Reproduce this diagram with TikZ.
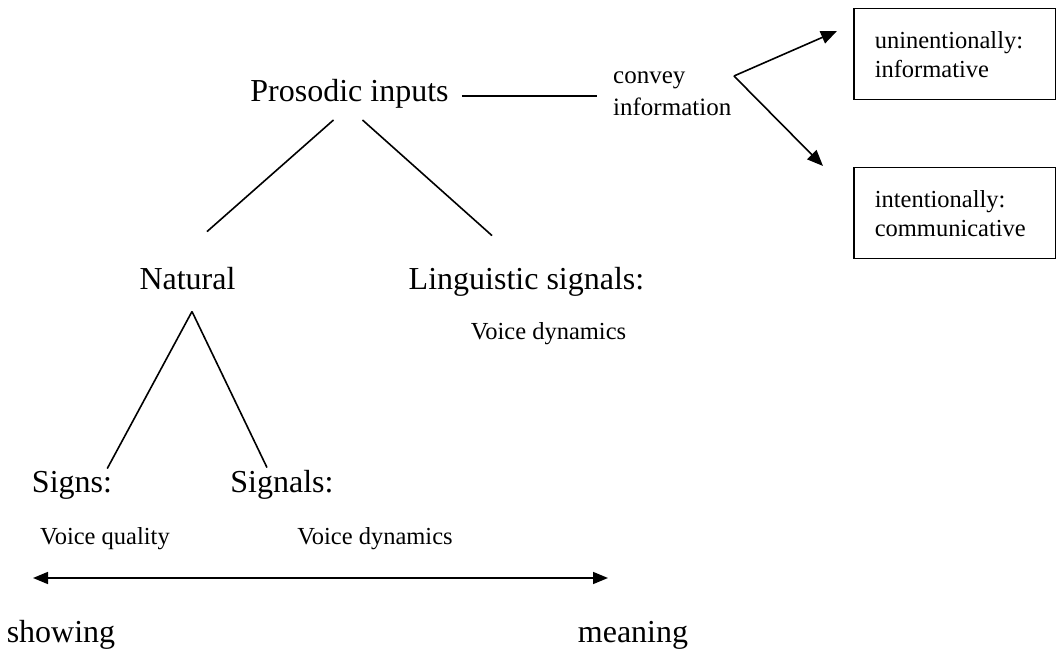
\documentclass[tikz,border=0pt]{standalone}
\usepackage{fontspec}
\setmainfont{Liberation Serif}
\usetikzlibrary{positioning,arrows.meta,calc}

\begin{document}
\begin{tikzpicture}[x=1pt,y=1pt,
  bigtxt/.style={inner sep=0pt, font=\fontsize{32}{36}\selectfont},
  smalltxt/.style={inner sep=0pt, font=\fontsize{24.5}{29}\selectfont},
  infobox/.style={draw, line width=1.5pt, anchor=north west, minimum height=91pt,
    text width=160pt, inner xsep=21pt, align=left, font=\fontsize{24.5}{29}\selectfont},
  treeline/.style={line width=1.6pt},
  flow/.style={line width=1.6pt, -{Triangle[length=16pt,width=13pt]}}]
\useasboundingbox (0,0) rectangle (1056,652);

% top of the tree
\node[bigtxt, anchor=base] (prosodic) at (349.5,550) {Prosodic inputs};
\node[inner sep=0pt, anchor=west, align=left, font=\fontsize{25}{32}\selectfont] (convey) at (613,558) {convey\\information};
\node[infobox] (uninfo) at (853,644) {uninentionally:\\informative};
\node[infobox] (intcomm) at (853,485) {intentionally:\\communicative};
\coordinate (fork) at (734,576);
\coordinate (tipup) at (837,621);
\coordinate (tipdown) at (823,486);

\draw[treeline] ([xshift=13pt,yshift=-2pt]prosodic.east) -- ([xshift=-16pt,yshift=-2pt]convey.west |- prosodic.east);
\draw[flow] (fork) -- (tipup);
\draw[flow] (fork) -- (tipdown);

% second level
\node[bigtxt, anchor=base] (natural) at (187.5,362) {Natural};
\node[bigtxt, anchor=base] (lingsig) at (526.5,362) {Linguistic signals:};
\node[smalltxt, anchor=base] (lingdyn) at (548.5,312) {Voice dynamics};

\draw[treeline] ([xshift=-16pt,yshift=-11pt]prosodic.south) -- ([xshift=19.5pt,yshift=36pt]natural.north);
\draw[treeline] ([xshift=13pt,yshift=-11pt]prosodic.south) -- ([xshift=-34.5pt,yshift=32pt]lingsig.north);

% third level
\node[bigtxt, anchor=base] (signs) at (72,159) {Signs:};
\node[bigtxt, anchor=base] (signals) at (282,159) {Signals:};
\node[smalltxt, anchor=base] (quality) at (105,107) {Voice quality};
\node[smalltxt, anchor=base] (natdyn) at (375,107) {Voice dynamics};

\draw[treeline] ([xshift=4.5pt,yshift=-21pt]natural.south) -- ([xshift=-5pt,yshift=3pt]signs.north east);
\draw[treeline] ([xshift=4.5pt,yshift=-21pt]natural.south) -- ([xshift=-15pt,yshift=3pt]signals.north);

% scale at the bottom
\node[bigtxt, anchor=base] (showing) at (61,9) {showing};
\node[bigtxt, anchor=base] (meaning) at (633,9) {meaning};
\coordinate (scaleleft) at (33,74);
\coordinate (scaleright) at (608,74);
\draw[line width=1.6pt, {Triangle[length=15pt,width=12pt]}-{Triangle[length=15pt,width=12pt]}] (scaleleft) -- (scaleright);
\end{tikzpicture}
\end{document}
